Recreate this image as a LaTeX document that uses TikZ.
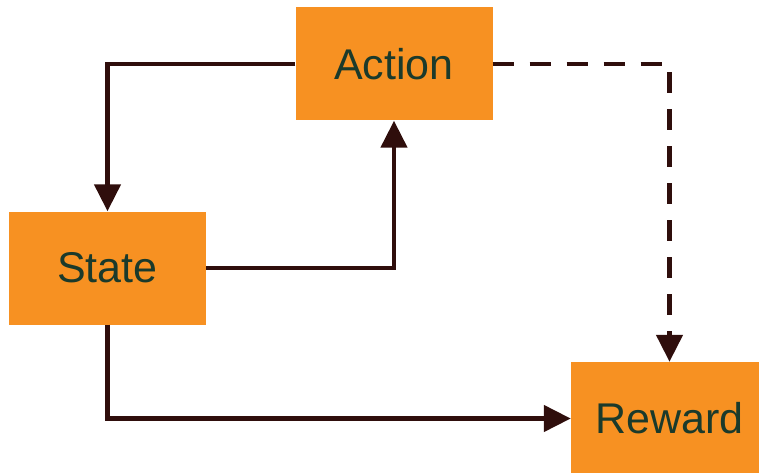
\documentclass[tikz,border=0pt]{standalone}
\usepackage{fontspec}
\setmainfont{Liberation Sans}
\usetikzlibrary{arrows.meta}
\definecolor{boxfill}{HTML}{F79122}
\definecolor{wire}{HTML}{2F0E0C}
\definecolor{label}{HTML}{1B3A2B}
\begin{document}
\begin{tikzpicture}[x=1pt,y=-1pt,
  stage/.style={draw=none,fill=boxfill,minimum width=197pt,minimum height=113pt,
    inner sep=0pt,text=label,font=\fontsize{43}{43}\selectfont},
  link/.style={draw=wire,line width=4.6pt,
    -{Triangle[width=26pt,length=27pt]}},
  dashlink/.style={link,dash pattern=on 21pt off 16pt}]
  \useasboundingbox (0,0) rectangle (759,473);
  \clip (0,0) rectangle (759,473);
  \node[stage] (action) at (394,64) {Action};
  \node[stage] (state) at (107.5,268) {State};
  \node[stage] (reward) at (669.5,418.5) {Reward};
  \draw[link] (action.west) -| (state.north);
  \draw[link] (state.east) -| (action.south);
  \draw[link] (state.south) |- (reward.west);
  \draw[dashlink] (action.east) -| (reward.north);
\end{tikzpicture}
\end{document}
